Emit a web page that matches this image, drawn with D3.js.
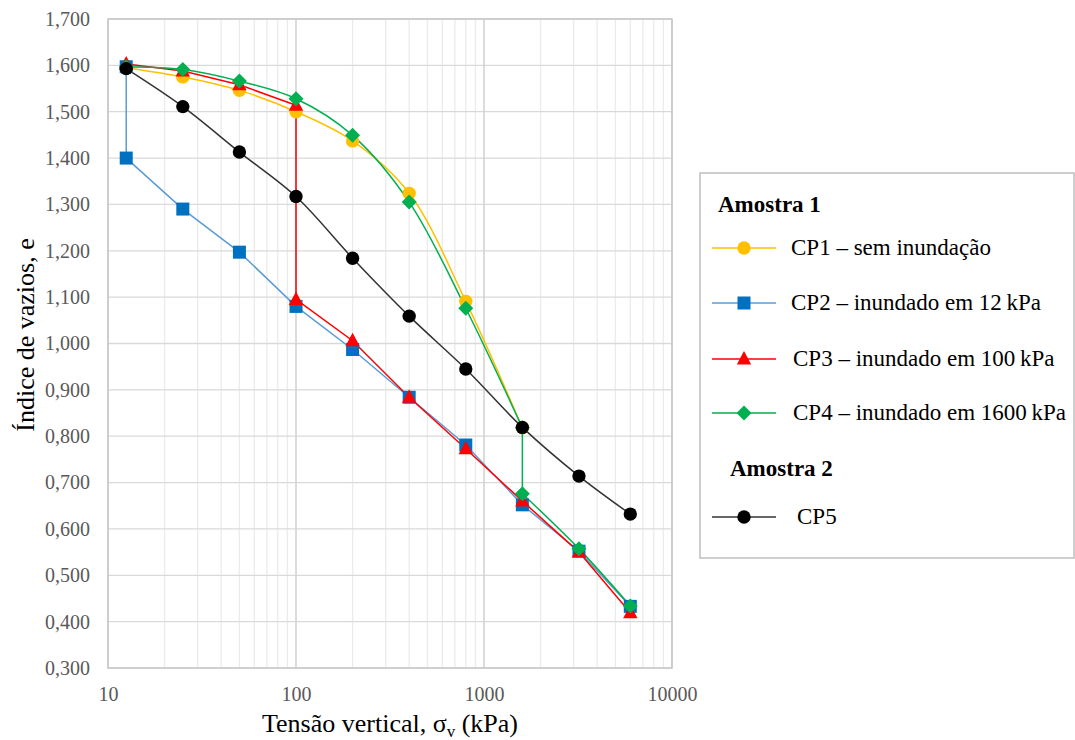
<!DOCTYPE html>
<html>
<head>
<meta charset="utf-8">
<script src="https://cdn.jsdelivr.net/npm/d3@7"></script>
<style>
  html, body { margin: 0; padding: 0; background: #fff; }
  svg { display: block; }
  svg text { font-family: "Liberation Serif", "Times New Roman", serif; }
</style>
</head>
<body>
<svg id="chart" width="1075" height="740"></svg>
<script>
// ---------------- DATA ----------------
const xTicks = [10, 100, 1000, 10000];
const xTickLabels = ["10", "100", "1000", "10000"];
const yTicks = [0.3, 0.4, 0.5, 0.6, 0.7, 0.8, 0.9, 1.0, 1.1, 1.2, 1.3, 1.4, 1.5, 1.6, 1.7];
const yTickLabels = ["0,300","0,400","0,500","0,600","0,700","0,800","0,900","1,000","1,100","1,200","1,300","1,400","1,500","1,600","1,700"];

const cp1X = [12.5, 25, 50, 100, 200, 400, 800, 1600];
const cp1Y = [1.595, 1.575, 1.546, 1.500, 1.437, 1.324, 1.091, 0.818];

const cp2X = [12.5, 12.5, 25, 50, 100, 200, 400, 800, 1600, 3200, 6000];
const cp2Y = [1.597, 1.400, 1.290, 1.197, 1.080, 0.987, 0.884, 0.781, 0.652, 0.552, 0.433];

const cp3X = [12.5, 25, 50, 100, 100, 200, 400, 800, 1600, 3200, 6000];
const cp3Y = [1.603, 1.588, 1.558, 1.514, 1.095, 1.006, 0.884, 0.773, 0.660, 0.550, 0.419];

const cp4X = [12.5, 25, 50, 100, 200, 400, 800, 1600, 1600, 3200, 6000];
const cp4Y = [1.597, 1.591, 1.566, 1.528, 1.449, 1.305, 1.076, 0.818, 0.676, 0.557, 0.434];

const cp5X = [12.5, 25, 50, 100, 200, 400, 800, 1600, 3200, 6000];
const cp5Y = [1.593, 1.511, 1.413, 1.317, 1.184, 1.059, 0.945, 0.819, 0.714, 0.632];

const seriesNames = ["CP1 \u2013 sem inunda\u00e7\u00e3o", "CP2 \u2013 inundado em 12\u2009kPa", "CP3 \u2013 inundado em 100\u2009kPa", "CP4 \u2013 inundado em 1600\u2009kPa", "CP5"];
const groupNames = ["Amostra 1", "Amostra 2"];

// ---------------- STYLE ----------------
const FONT = "'Liberation Serif', 'Times New Roman', serif";
const series = [
  { name: seriesNames[0], xs: cp1X, ys: cp1Y, line: "#FFC000", fill: "#FFC000", shape: "circle", smooth: true },
  { name: seriesNames[1], xs: cp2X, ys: cp2Y, line: "#5B9BD5", fill: "#0070C0", shape: "square", smooth: false },
  { name: seriesNames[2], xs: cp3X, ys: cp3Y, line: "#FF0000", fill: "#FF0000", shape: "triangle", smooth: false },
  { name: seriesNames[3], xs: cp4X, ys: cp4Y, line: "#00B050", fill: "#00B050", shape: "diamond", smooth: true },
  { name: seriesNames[4], xs: cp5X, ys: cp5Y, line: "#333333", fill: "#000000", shape: "circle", smooth: true }
];

const svg = d3.select("#chart");
const L = 108, R = 672, T = 19, B = 668;

const x = d3.scaleLog().domain([10, 10000]).range([L, R]);
const y = d3.scaleLinear().domain([0.3, 1.7]).range([B, T]);

// minor vertical gridlines
const minor = [];
for (let d = 10; d < 10000; d *= 10) for (let k = 2; k <= 9; k++) minor.push(d * k);
svg.append("g").selectAll("line").data(minor).join("line")
  .attr("x1", d => x(d)).attr("x2", d => x(d)).attr("y1", T).attr("y2", B)
  .attr("stroke", "#ebebeb").attr("stroke-width", 1.3);

// horizontal gridlines
svg.append("g").selectAll("line").data(yTicks).join("line")
  .attr("x1", L).attr("x2", R).attr("y1", d => y(d)).attr("y2", d => y(d))
  .attr("stroke", "#d9d9d9").attr("stroke-width", 1.3);

// major vertical gridlines
svg.append("g").selectAll("line").data(xTicks).join("line")
  .attr("x1", d => x(d)).attr("x2", d => x(d)).attr("y1", T).attr("y2", B)
  .attr("stroke", "#d0d0d0").attr("stroke-width", 1.5);

// plot border
svg.append("rect").attr("x", L).attr("y", T).attr("width", R - L).attr("height", B - T)
  .attr("fill", "none").attr("stroke", "#c8c8c8").attr("stroke-width", 1.5);

// axes
const yAxis = svg.append("g").attr("transform", `translate(${L},0)`)
  .call(d3.axisLeft(y).tickValues(yTicks).tickFormat((d, i) => yTickLabels[i]).tickSize(0).tickPadding(18));
yAxis.attr("font-family", FONT).attr("font-size", 20);
yAxis.select(".domain").remove();
yAxis.selectAll("text").attr("font-size", 20).attr("fill", "#595959").style("font-family", FONT);

const xAxis = svg.append("g").attr("transform", `translate(0,${B})`)
  .call(d3.axisBottom(x).tickValues(xTicks).tickFormat((d, i) => xTickLabels[i]).tickSize(0).tickPadding(19));
xAxis.attr("font-family", FONT).attr("font-size", 20);
xAxis.select(".domain").remove();
xAxis.selectAll("text").attr("font-size", 20).attr("fill", "#595959").style("font-family", FONT);

// axis titles
svg.append("text").attr("transform", "translate(34,335) rotate(-90)")
  .attr("text-anchor", "middle").attr("font-size", 26).attr("fill", "#000").style("font-family", FONT)
  .text("\u00cdndice de vazios, e");

const xt = svg.append("text").attr("x", 390).attr("y", 732)
  .attr("text-anchor", "middle").attr("font-size", 26).attr("fill", "#000").style("font-family", FONT);
xt.append("tspan").text("Tens\u00e3o vertical, \u03c3");
xt.append("tspan").attr("font-size", 17).attr("dy", 5).text("v");
xt.append("tspan").attr("dy", -5).text(" (kPa)");

// marker drawing
function markerPath(shape) {
  switch (shape) {
    case "circle": return d3.symbol(d3.symbolCircle, 140)();
    case "square": return "M-6.5,-6.5H6.5V6.5H-6.5Z";
    case "triangle": return "M0,-8L7.2,5.5H-7.2Z";
    case "diamond": return "M0,-7.5L7.5,0L0,7.5L-7.5,0Z";
  }
}

// split into runs: vertical steps (duplicate x) drawn straight
function segments(s) {
  const pts = s.xs.map((v, i) => [x(v), y(s.ys[i])]);
  const segs = [];
  let cur = [pts[0]];
  for (let i = 1; i < pts.length; i++) {
    if (s.xs[i] === s.xs[i - 1]) {
      if (cur.length > 1) segs.push({ pts: cur, smooth: s.smooth });
      segs.push({ pts: [pts[i - 1], pts[i]], smooth: false });
      cur = [pts[i]];
    } else cur.push(pts[i]);
  }
  if (cur.length > 1) segs.push({ pts: cur, smooth: s.smooth });
  return segs;
}

const smoothLine = d3.line().curve(d3.curveCatmullRom.alpha(0.5));
const straightLine = d3.line();

series.forEach(s => {
  const g = svg.append("g");
  segments(s).forEach(seg => {
    g.append("path").attr("d", (seg.smooth ? smoothLine : straightLine)(seg.pts))
      .attr("fill", "none").attr("stroke", s.line).attr("stroke-width", 1.5);
  });
});
series.forEach(s => {
  svg.append("g").selectAll("path").data(s.xs.map((v, i) => [v, s.ys[i]])).join("path")
    .attr("transform", d => `translate(${x(d[0])},${y(d[1])})`)
    .attr("d", markerPath(s.shape)).attr("fill", s.fill);
});

// legend
const lg = svg.append("g").style("font-family", FONT);
lg.append("rect").attr("x", 700).attr("y", 173).attr("width", 374).attr("height", 385)
  .attr("fill", "#fff").attr("stroke", "#bfbfbf").attr("stroke-width", 1.5);

lg.append("text").attr("x", 718).attr("y", 212).attr("font-size", 23).attr("font-weight", "bold")
  .style("font-family", FONT).text(groupNames[0]);
lg.append("text").attr("x", 730).attr("y", 476).attr("font-size", 23).attr("font-weight", "bold")
  .style("font-family", FONT).text(groupNames[1]);

const legendRows = [
  { cy: 248, tx: 791 },
  { cy: 303, tx: 791 },
  { cy: 359, tx: 793 },
  { cy: 413, tx: 793 },
  { cy: 517, tx: 797 }
];
series.forEach((s, i) => {
  const r = legendRows[i];
  lg.append("line").attr("x1", 712).attr("x2", 776).attr("y1", r.cy).attr("y2", r.cy)
    .attr("stroke", s.line).attr("stroke-width", 1.5);
  lg.append("path").attr("transform", `translate(744,${r.cy})`).attr("d", markerPath(s.shape)).attr("fill", s.fill);
  lg.append("text").attr("x", r.tx).attr("y", r.cy + 7).attr("font-size", 23).attr("fill", "#000")
    .style("font-family", FONT).text(s.name);
});
</script>
</body>
</html>
